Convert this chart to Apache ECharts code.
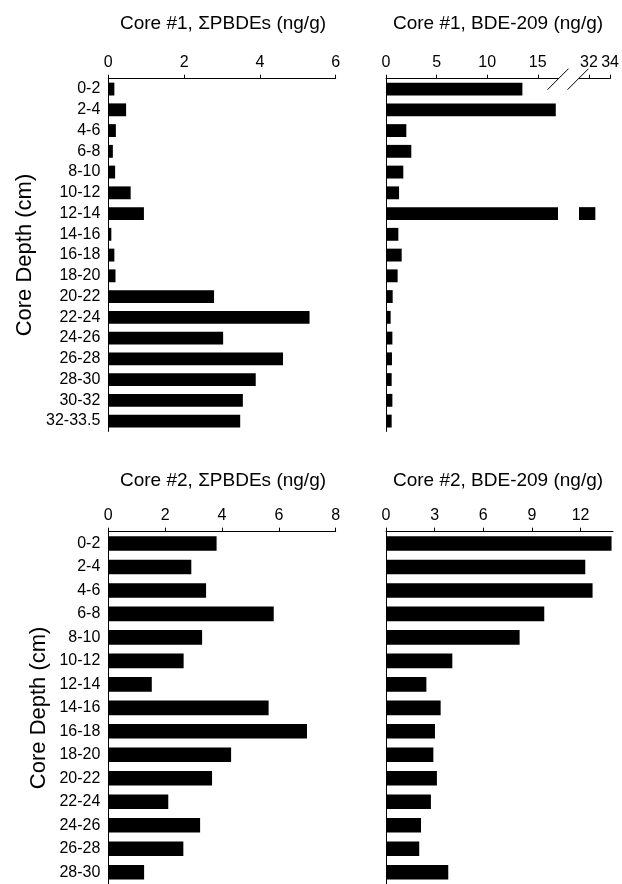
<!DOCTYPE html>
<html><head><meta charset="utf-8">
<script src="https://cdn.jsdelivr.net/npm/echarts@6/dist/echarts.min.js"></script>
<style>html,body{margin:0;padding:0;background:#fff}#c{width:622px;height:884px}</style>
</head><body><div id="c"></div>
<script>
const core1Depths = ['0-2','2-4','4-6','6-8','8-10','10-12','12-14','14-16','16-18','18-20','20-22','22-24','24-26','26-28','28-30','30-32','32-33.5'];
const core1PBDEs = [0.16,0.47,0.20,0.12,0.18,0.59,0.94,0.08,0.16,0.19,2.79,5.31,3.03,4.61,3.89,3.55,3.48];
const core1BDE209 = [13.48,16.78,2.01,2.50,1.71,1.29,32.6,1.22,1.55,1.15,0.66,0.46,0.63,0.59,0.56,0.63,0.56];
const core2Depths = ['0-2','2-4','4-6','6-8','8-10','10-12','12-14','14-16','16-18','18-20','20-22','22-24','24-26','26-28','28-30'];
const core2PBDEs = [3.81,2.92,3.44,5.82,3.30,2.65,1.53,5.64,6.99,4.32,3.65,2.11,3.23,2.64,1.26];
const core2BDE209 = [13.91,12.29,12.74,9.76,8.24,4.09,2.49,3.37,3.02,2.92,3.14,2.77,2.16,2.05,3.84];
const ticksC1PBDE = [0,2,4,6];
const ticksC1BDELow = [0,5,10,15];
const ticksC1BDEHigh = [32,34];
const ticksC2PBDE = [0,2,4,6,8];
const ticksC2BDE = [0,3,6,9,12];
const breakLowMax = 17;
const breakHighMin = 31.05;
const breakHighMax = 34;

const FONT = 'Liberation Sans, Arial, sans-serif';
const TOP1 = 78.7, H1 = 352.75, TOP2 = 531.7, H2 = 353.6;

function vAxis(gi, min, max, ticks) {
  return {type:'value', gridIndex:gi, position:'top', min:min, max:max,
    axisLine:{show:true, onZero:false, lineStyle:{color:'#000', width:1}},
    axisTick:{show:true, inside:false, length:4, lineStyle:{color:'#000', width:1}, customValues:ticks},
    axisLabel:{show:true, margin:8, color:'#000', fontSize:16, fontFamily:FONT, customValues:ticks},
    splitLine:{show:false}};
}
function cAxis(gi, cats, showLabels, showLine, name, gap) {
  const a = {type:'category', gridIndex:gi, data:cats, inverse:true,
    axisLine:{show:showLine, onZero:false, lineStyle:{color:'#000', width:1}},
    axisTick:{show:false},
    axisLabel:{show:showLabels, interval:0, margin:8, color:'#000', fontSize:16, fontFamily:FONT},
    splitLine:{show:false}};
  if (name) {
    a.name = name; a.nameLocation = 'middle'; a.nameGap = gap;
    a.nameTextStyle = {color:'#000', fontSize:22, fontFamily:FONT};
  }
  return a;
}
function bar(i, data) {
  return {type:'bar', xAxisIndex:i, yAxisIndex:i, data:data, clip:true,
    barCategoryGap:'38%', itemStyle:{color:'#000'}, emphasis:{disabled:true}, silent:true};
}

const chart = echarts.init(document.getElementById('c'), null, {renderer:'canvas'});
const titleStyle = (t, x, y) => ({type:'text', x:x, y:y, style:{text:t, fill:'#000', font:'19px ' + FONT, textAlign:'center', textVerticalAlign:'middle'}});

chart.setOption({
  animation:false,
  backgroundColor:'#fff',
  grid:[
    {left:108.3, top:TOP1, width:227.4, height:H1},
    {left:386, top:TOP1, width:172, height:H1},
    {left:579, top:TOP1, width:34.4, height:H1},
    {left:108.3, top:TOP2, width:227.4, height:H2},
    {left:386, top:TOP2, width:227, height:H2}
  ],
  xAxis:[
    vAxis(0, 0, 6, ticksC1PBDE),
    vAxis(1, 0, breakLowMax, ticksC1BDELow),
    vAxis(2, breakHighMin, breakHighMax, ticksC1BDEHigh),
    vAxis(3, 0, 8, ticksC2PBDE),
    vAxis(4, 0, 14, ticksC2BDE)
  ],
  yAxis:[
    cAxis(0, core1Depths, true, true, 'Core Depth (cm)', 72),
    cAxis(1, core1Depths, false, true),
    cAxis(2, core1Depths, false, false),
    cAxis(3, core2Depths, true, true, 'Core Depth (cm)', 58),
    cAxis(4, core2Depths, false, true)
  ],
  series:[
    bar(0, core1PBDEs),
    bar(1, core1BDE209),
    bar(2, core1BDE209.map(v => v > breakLowMax ? v : null)),
    bar(3, core2PBDEs),
    bar(4, core2BDE209)
  ]
});

// axis break marks
const xa = chart.convertToPixel({xAxisIndex:1}, breakLowMax);
const xb = chart.convertToPixel({xAxisIndex:2}, breakHighMin);
const slash = (x) => ({type:'line', shape:{x1:x-10.5, y1:TOP1+11, x2:x+10.5, y2:TOP1-10}, style:{stroke:'#000', lineWidth:1}});
chart.setOption({graphic:[
  titleStyle('Core #1, ΣPBDEs (ng/g)', 223, 24),
  titleStyle('Core #1, BDE-209 (ng/g)', 498, 24),
  titleStyle('Core #2, ΣPBDEs (ng/g)', 223, 481),
  titleStyle('Core #2, BDE-209 (ng/g)', 498, 481),
  slash(xa), slash(xb - 1)
]});
</script></body></html>
